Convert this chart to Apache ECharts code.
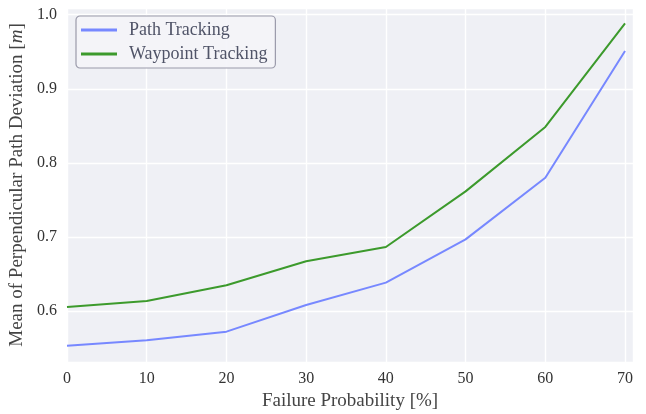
<!DOCTYPE html>
<html>
<head>
<meta charset="utf-8">
<script src="https://cdn.jsdelivr.net/npm/echarts@6/dist/echarts.min.js"></script>
<style>html,body{margin:0;padding:0;background:#fff}#c{width:646px;height:414px}</style>
</head>
<body>
<div id="c"></div>
<script>
const failureProb = [0, 10, 20, 30, 40, 50, 60, 70];
const pathTracking = [0.5536, 0.5609, 0.5725, 0.6085, 0.6386, 0.697, 0.780, 0.951];
const waypointTracking = [0.6058, 0.6139, 0.635, 0.6674, 0.6867, 0.7617, 0.8486, 0.9884];
const seriesNames = ['Path Tracking', 'Waypoint Tracking'];

const font = 'Liberation Serif';
const chart = echarts.init(document.getElementById('c'), null, {renderer: 'canvas'});
const zip = (xs, ys) => xs.map((x, i) => [x, ys[i]]);
chart.setOption({
  animation: false,
  backgroundColor: '#ffffff',
  textStyle: {fontFamily: font},
  grid: {left: 67, right: 13, top: 8, bottom: 52, show: true, backgroundColor: '#eff0f5', borderWidth: 0,
         containLabel: false, outerBoundsMode: 'none'},
  legend: {
    left: 76, top: 16, orient: 'vertical',
    itemWidth: 36, itemHeight: 3, itemGap: 6,
    padding: [5, 8, 5, 5],
    backgroundColor: 'rgba(244,244,248,0.9)', borderColor: '#9a9aaa', borderWidth: 1.2, borderRadius: 4,
    textStyle: {fontFamily: font, fontSize: 18, color: '#505468', padding: [0, 0, 0, 7]},
    icon: 'rect',
    data: seriesNames
  },
  xAxis: {
    type: 'value', min: 0, max: 71, interval: 10,
    name: 'Failure Probability [%]', nameLocation: 'middle', nameGap: 28,
    nameTextStyle: {fontFamily: font, fontSize: 19, color: '#444'},
    axisLine: {show: false}, axisTick: {show: false},
    axisLabel: {fontFamily: font, fontSize: 16, color: '#333', margin: 9, showMaxLabel: false},
    splitLine: {show: true, lineStyle: {color: '#ffffff', width: 1.4}}
  },
  yAxis: {
    type: 'value', min: 0.5316, max: 1.009, splitNumber: 5,
    name: 'Mean of Perpendicular Path Deviation [{i|m}]', nameLocation: 'middle', nameGap: 30,
    nameTextStyle: {fontFamily: font, fontSize: 19, color: '#444', rich: {i: {fontFamily: font, fontStyle: 'italic', fontSize: 19, color: '#444'}}},
    axisLine: {show: false}, axisTick: {show: false},
    axisLabel: {fontFamily: font, fontSize: 16, color: '#333', margin: 10, showMinLabel: false, showMaxLabel: false,
      formatter: v => v.toFixed(1)},
    splitLine: {show: true, lineStyle: {color: '#ffffff', width: 1.4}}
  },
  series: [
    {name: seriesNames[0], type: 'line', data: zip(failureProb, pathTracking), symbol: 'none',
     lineStyle: {color: '#7788ff', width: 2}, itemStyle: {color: '#7788ff'}},
    {name: seriesNames[1], type: 'line', data: zip(failureProb, waypointTracking), symbol: 'none',
     lineStyle: {color: '#3c9a2c', width: 2}, itemStyle: {color: '#3c9a2c'}}
  ]
});
</script>
</body>
</html>
